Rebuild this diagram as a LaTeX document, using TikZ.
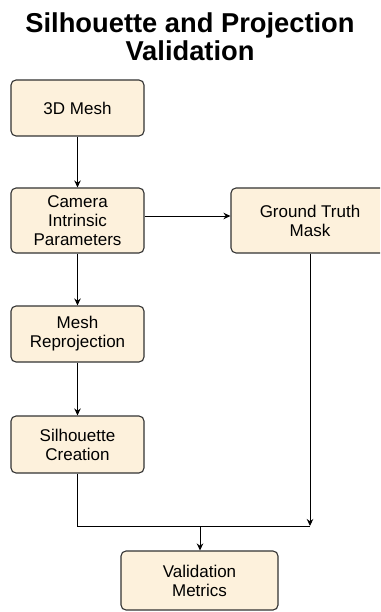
\documentclass[tikz,border=0pt]{standalone}
\usepackage{fontspec}
\setmainfont{Liberation Sans}
\usetikzlibrary{arrows.meta}
\definecolor{boxfill}{HTML}{FDF1DC}
\definecolor{boxline}{HTML}{333333}
\begin{document}
\begin{tikzpicture}[x=1pt,y=-1pt,
  stepbox/.style={draw=boxline, line width=1.1pt, fill=boxfill, rounded corners=5pt,
    align=center, font=\fontsize{17}{19}\selectfont, inner sep=0pt},
  flow/.style={draw=black, line width=1pt, -{Stealth[length=7pt,width=6.5pt]}},
  link/.style={draw=black, line width=1pt}]
  \useasboundingbox (0,0) rectangle (380,612);
  \clip (0,0) rectangle (380,612);
  \fill[white] (0,0) rectangle (380,612);

  % title
  \node[font=\bfseries\fontsize{27.3}{28}\selectfont, align=center] (title) at (190,37)
    {Silhouette and Projection\\Validation};

  % process boxes
  \node[stepbox, minimum width=133pt, minimum height=56pt] (mesh) at (77.5,108) {3D Mesh};
  \node[stepbox, minimum width=133pt, minimum height=65pt] (cam) at (77.5,220.5) {Camera\\Intrinsic\\Parameters};
  \node[stepbox, minimum width=158pt, minimum height=65pt] (gt) at (310,220.5) {Ground Truth\\Mask};
  \node[stepbox, minimum width=133pt, minimum height=56pt] (rep) at (77.5,334) {Mesh\\Reprojection};
  \node[stepbox, minimum width=133pt, minimum height=57pt] (sil) at (77.5,444.5) {Silhouette\\Creation};
  \node[stepbox, minimum width=157pt, minimum height=59pt] (val) at (199.5,580.5) {Validation\\Metrics};

  % junction points of the merge
  \coordinate (jl) at (77,526);
  \coordinate (jr) at (310,526);
  \coordinate (jm) at (200,526);

  % connectors
  \draw[flow] (mesh) -- (cam);
  \draw[flow] (cam.east |- 0,216) -- (gt.west |- 0,216);
  \draw[flow] (cam) -- (rep);
  \draw[flow] (rep) -- (sil);
  \draw[link] (sil.south -| jl) -- (jl) -- (jr);
  \draw[flow] (gt.south -| jr) -- (jr);
  \draw[flow] (jm) -- (val.north -| jm);
\end{tikzpicture}
\end{document}
